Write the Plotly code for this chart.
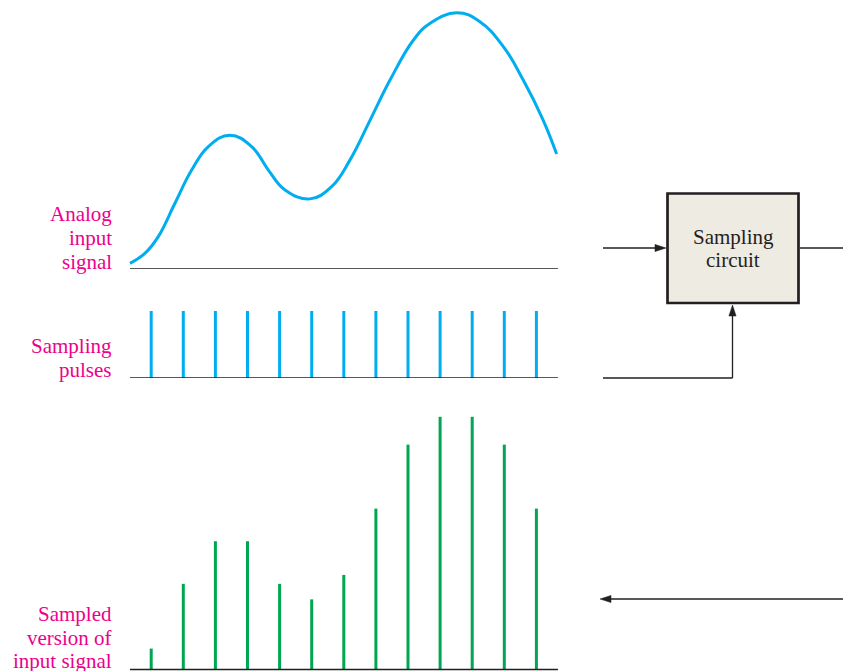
import plotly.graph_objects as go

W, H = 843, 671

# ---------------- data ----------------
sample_times = list(range(1, 14))
pulse_values = [1] * 13
sampled_values = [0.82, 3.36, 5.03, 5.03, 3.36, 2.75, 3.71, 6.31, 8.82, 9.91, 9.91, 8.82, 6.31]
analog_times = [0.34, 0.81, 1.22, 1.74, 2.26, 2.78, 3.45, 4.13, 4.65, 5.17, 5.95, 6.62,
                7.19, 7.82, 8.44, 9.17, 9.69, 10.52, 11.24, 11.97, 12.59, 13.21, 13.63]
analog_values = [0.22, 0.62, 1.27, 2.58, 3.88, 4.80, 5.25, 4.80, 3.88, 3.10, 2.75, 3.23,
                 4.27, 5.84, 7.41, 8.98, 9.64, 10.05, 9.70, 8.72, 7.41, 5.84, 4.51]
axis_span = [0.34, 13.67]

signal_labels = [
    (["Analog", "input", "signal"], [214, 238, 262]),
    (["Sampling", "pulses"], [346, 370]),
    (["Sampled", "version of", "input signal"], [614, 638, 661]),
]
box_text = ["Sampling", "circuit"]

BLUE = "#00aeef"
GREEN = "#00a651"
MAGENTA = "#ec008c"
INK = "#231f20"
FONT = "Liberation Serif"


def px(x):
    return x / W


def py(y):
    return 1 - y / H


def stems(xs, ys):
    sx, sy = [], []
    for x, y in zip(xs, ys):
        sx += [x, x, None]
        sy += [0, y, None]
    return sx, sy


fig = go.Figure()

# analog signal
fig.add_trace(go.Scatter(x=analog_times, y=analog_values, mode="lines",
                         line=dict(color=BLUE, width=3, shape="spline", smoothing=1.2),
                         xaxis="x", yaxis="y", hoverinfo="skip"))
fig.add_trace(go.Scatter(x=axis_span, y=[0, 0], mode="lines",
                         line=dict(color=INK, width=1.5), xaxis="x", yaxis="y", hoverinfo="skip"))

# sampling pulses
sx, sy = stems(sample_times, pulse_values)
fig.add_trace(go.Scatter(x=sx, y=sy, mode="lines", line=dict(color=BLUE, width=3),
                         xaxis="x", yaxis="y2", hoverinfo="skip"))
fig.add_trace(go.Scatter(x=axis_span, y=[0, 0], mode="lines",
                         line=dict(color=INK, width=1.5), xaxis="x", yaxis="y2", hoverinfo="skip"))

# sampled signal
sx, sy = stems(sample_times, sampled_values)
fig.add_trace(go.Scatter(x=sx, y=sy, mode="lines", line=dict(color=GREEN, width=3),
                         xaxis="x", yaxis="y3", hoverinfo="skip"))
fig.add_trace(go.Scatter(x=axis_span, y=[0, 0], mode="lines",
                         line=dict(color=INK, width=1.6), xaxis="x", yaxis="y3", hoverinfo="skip"))

# scale: page_x = 119.1 + 32.1 * t ; 25.5 px per amplitude unit
x0t = (0 - 119.1) / 32.1
x1t = (W - 119.1) / 32.1
u = 25.5
hidden = dict(visible=False, showgrid=False, zeroline=False, fixedrange=True)

shapes = []
annotations = []


def line(x0, y0, x1, y1, w=1.3):
    shapes.append(dict(type="line", xref="paper", yref="paper",
                       x0=px(x0), y0=py(y0), x1=px(x1), y1=py(y1),
                       line=dict(color=INK, width=w)))


def head(tx, ty, dx, dy, length=11, half=3.6):
    bx, by = tx - dx * length, ty - dy * length
    nx, ny = -dy, dx
    pts = [(tx, ty), (bx + nx * half, by + ny * half), (bx - nx * half, by - ny * half)]
    path = "M " + " L ".join(f"{px(a):.5f},{py(b):.5f}" for a, b in pts) + " Z"
    shapes.append(dict(type="path", xref="paper", yref="paper", path=path,
                       fillcolor=INK, line=dict(color=INK, width=0.5)))


# sampling circuit box
shapes.append(dict(type="rect", xref="paper", yref="paper",
                   x0=px(667.5), x1=px(798.5), y0=py(193.5), y1=py(303),
                   fillcolor="#eeebe3", line=dict(color=INK, width=2.7)))
line(603, 248, 660, 248)
head(666, 248, 1, 0)
line(800, 248, W, 248)
line(603, 378, 732.5, 378)
line(732.5, 378, 732.5, 312)
head(732.5, 305, 0, -1)
line(W, 599, 608, 599)
head(600, 599, -1, 0)

for lines_, ys in signal_labels:
    for t, y in zip(lines_, ys):
        annotations.append(dict(text=t, xref="paper", yref="paper", x=px(114), y=py(y),
                                xanchor="right", yanchor="middle", showarrow=False,
                                font=dict(family=FONT, size=21, color=MAGENTA)))
for t, y in zip(box_text, [237, 260]):
    annotations.append(dict(text=t, xref="paper", yref="paper", x=px(733), y=py(y),
                            xanchor="center", yanchor="middle", showarrow=False,
                            font=dict(family=FONT, size=21, color=INK)))

fig.update_layout(
    width=W, height=H,
    margin=dict(l=0, r=0, t=0, b=0),
    paper_bgcolor="white", plot_bgcolor="rgba(0,0,0,0)",
    showlegend=False,
    xaxis=dict(range=[x0t, x1t], domain=[0, 1], anchor="y3", **hidden),
    yaxis=dict(range=[0, 269 / u], domain=[py(269), 1], anchor="x", **hidden),
    yaxis2=dict(range=[0, 88 / 67], domain=[py(378), py(290)], anchor="x", **hidden),
    yaxis3=dict(range=[-1.5 / u, -1.5 / u + (H - 400) / u], domain=[0, py(400)],
                anchor="x", **hidden),
    shapes=shapes,
    annotations=annotations,
)

fig.write_html(
    "out.html",
    config={"displayModeBar": False, "staticPlot": True},
    post_script="document.body.style.margin='0';document.body.style.overflow='hidden';",
)
